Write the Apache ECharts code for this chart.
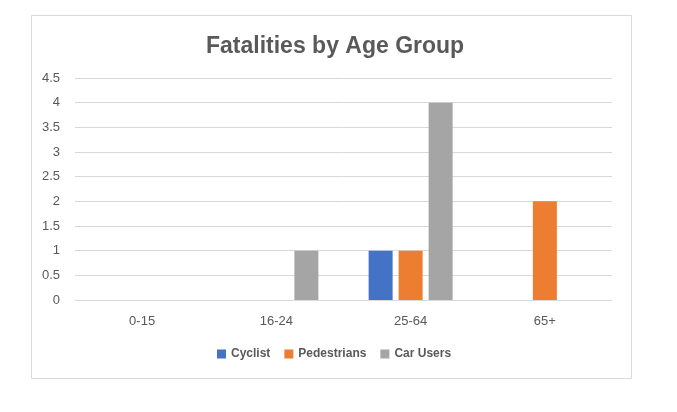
<!DOCTYPE html>
<html><head><meta charset="utf-8">
<script src="https://cdn.jsdelivr.net/npm/echarts@6/dist/echarts.min.js"></script>
<style>html,body{margin:0;padding:0;background:#fff}#c{width:677px;height:412px}</style>
</head><body><div id="c"></div>
<script>
const categories = ['0-15', '16-24', '25-64', '65+'];
const cyclist = [0, 0, 1, 0];
const pedestrians = [0, 0, 1, 2];
const carUsers = [0, 1, 4, 0];
const seriesNames = ['Cyclist', 'Pedestrians', 'Car Users'];
const colors = ['#4472C4', '#ED7D31', '#A5A5A5'];

const chart = echarts.init(document.getElementById('c'), null, {renderer: 'canvas'});
const font = '"Liberation Sans", Arial, sans-serif';
chart.setOption({
  animation: false,
  color: colors,
  textStyle: {fontFamily: font},
  graphic: [{type: 'rect', shape: {x: 31.5, y: 15.5, width: 600, height: 363}, style: {fill: 'none', stroke: '#d9d9d9', lineWidth: 1}, z: -1}],
  title: {text: 'Fatalities by Age Group', left: 201, top: 30,
    textStyle: {fontSize: 23, fontWeight: 'bold', color: '#595959', fontFamily: font}},
  legend: {bottom: 47, left: 212, itemWidth: 9, itemHeight: 9, itemGap: 14, icon: 'rect',
    textStyle: {fontSize: 12, color: '#595959', fontWeight: 'bold', fontFamily: font},
    data: seriesNames},
  grid: {left: 75, right: 65, top: 78, bottom: 112},
  xAxis: {type: 'category', data: categories,
    axisLine: {lineStyle: {color: '#d9d9d9'}}, axisTick: {show: false},
    axisLabel: {color: '#595959', fontSize: 13, margin: 15, fontFamily: font}},
  yAxis: {type: 'value', min: 0, max: 4.5, interval: 0.5,
    axisLine: {show: false}, axisTick: {show: false},
    splitLine: {lineStyle: {color: '#d9d9d9'}},
    axisLabel: {color: '#595959', fontSize: 13, margin: 15, fontFamily: font}},
  series: [
    {name: seriesNames[0], type: 'bar', data: cyclist, barWidth: 24, barGap: '25%'},
    {name: seriesNames[1], type: 'bar', data: pedestrians, barWidth: 24, barGap: '25%'},
    {name: seriesNames[2], type: 'bar', data: carUsers, barWidth: 24, barGap: '25%'}
  ]
});
</script></body></html>
